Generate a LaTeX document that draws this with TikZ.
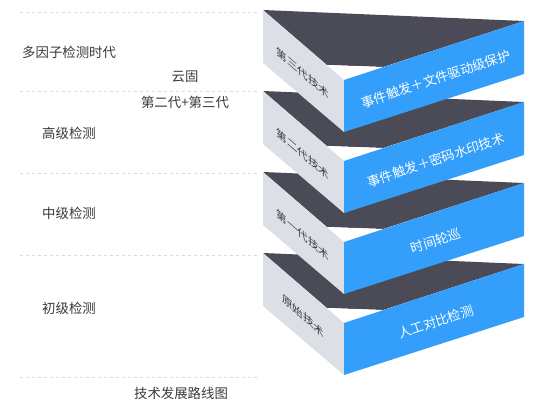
\documentclass[tikz,border=0pt]{standalone}
\usepackage{fontspec}
\setmainfont{Noto Sans CJK SC}
\definecolor{bluef}{HTML}{349EFB}
\definecolor{darkf}{HTML}{4A4B56}
\definecolor{grayf}{HTML}{DDDFE6}
\definecolor{txt}{HTML}{3A3A3A}
\definecolor{dashc}{HTML}{DADADA}
\begin{document}
\begin{tikzpicture}[x=1pt,y=-1pt,
  sep/.style={draw=dashc,line width=0.8pt,dash pattern=on 3pt off 3pt},
  lbl/.style={font=\fontsize{13.4}{13.4}\selectfont,text=txt,inner sep=0pt},
  sidetxt/.style={font=\fontsize{10.5}{10.5}\selectfont,text=txt,yslant=-0.864,inner sep=0pt},
  fronttxt/.style={font=\fontsize{13}{13}\selectfont,text=white,rotate=18.2,inner sep=0pt}]
\useasboundingbox[fill=white] (0,0) rectangle (540,404);
% dashed separators
\foreach \yy in {12,91,173,255,377}
  \draw[sep] (20,\yy) -- (257,\yy);
% blocks, bottom first
\foreach \k/\side/\front in {3/原始技术/人工对比检测,2/第一代技术/时间轮巡,1/第二代技术/事件触发＋密码水印技术,0/第三代技术/事件触发＋文件驱动级保护}{
  \begin{scope}[yshift=-81*\k pt]
    \fill[darkf] (263,10) -- (524,21) -- (383,67) -- (327,65) -- cycle;
    \fill[white] (327,65) -- (383,67) -- (344,80) -- cycle;
    \fill[grayf] (263,10) -- (263,63) -- (344,132) -- (344,80) -- cycle;
    \fill[bluef] (344,80) -- (524,21) -- (524,74) -- (344,132) -- cycle;
    \node[sidetxt] (side\k) at (303,73) {\side};
    \node[fronttxt] (front\k) at (436,79) {\front};
  \end{scope}
}
% left labels
\node[lbl,anchor=west] (era) at (22,52) {多因子检测时代};
\node[lbl] (cloud) at (185,77) {云固};
\node[lbl] (gen23) at (185,102) {第二代+第三代};
\node[lbl,anchor=west] (high) at (42,133) {高级检测};
\node[lbl,anchor=west] (mid) at (42,213) {中级检测};
\node[lbl,anchor=west] (low) at (42,308) {初级检测};
\node[lbl] (title) at (181,393) {技术发展路线图};
\end{tikzpicture}
\end{document}
